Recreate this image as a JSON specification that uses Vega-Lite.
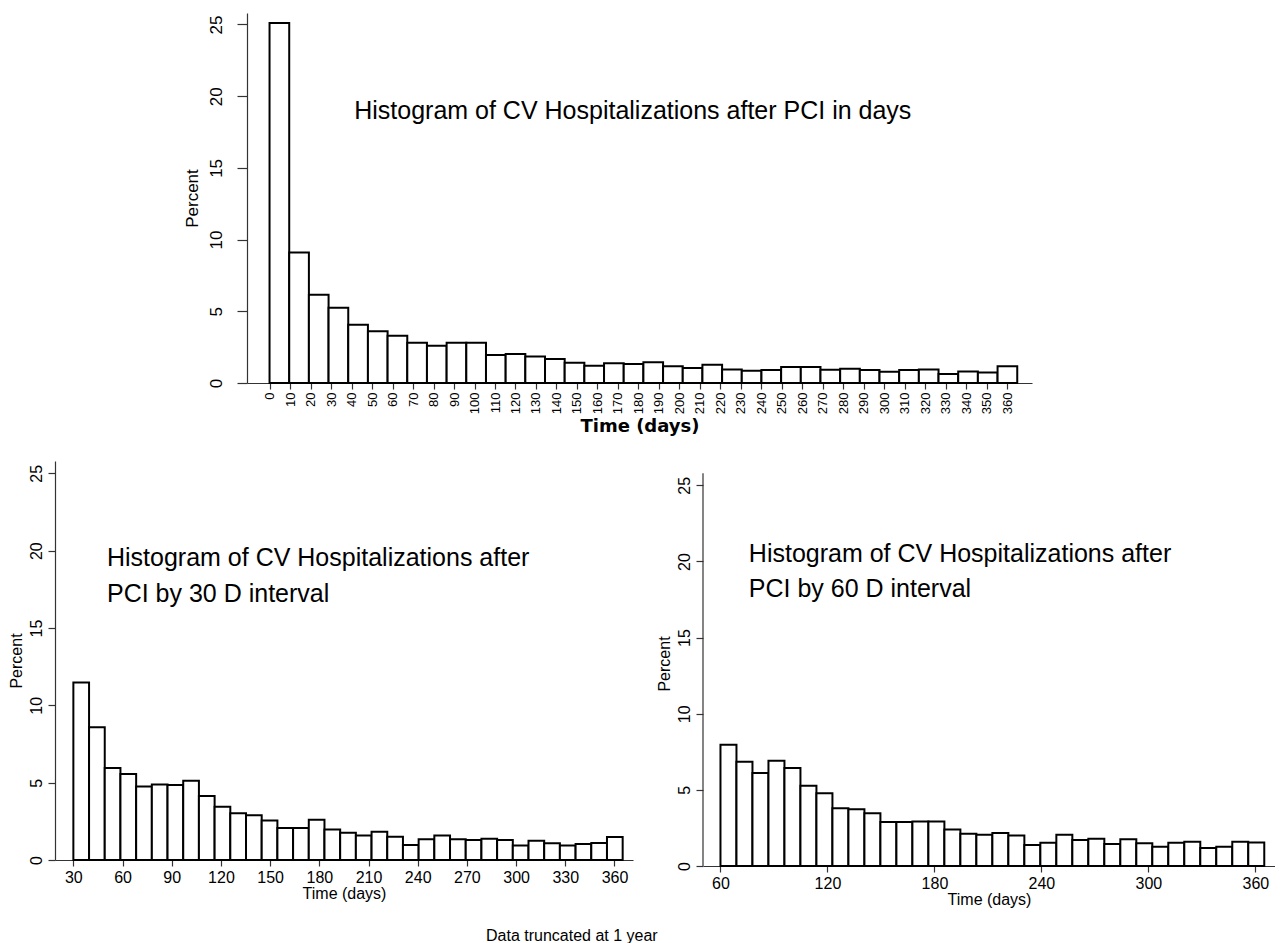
{
  "$schema": "https://vega.github.io/schema/vega-lite/v6.json",
  "background": "white",
  "padding": {"left": 8, "top": 13, "right": 0, "bottom": 0},
  "config": {
    "font": "Liberation Sans",
    "view": {"stroke": null},
    "axis": {"grid": false, "domainColor": "#333", "tickColor": "#333", "labelColor": "#000", "titleColor": "#000", "labelFont": "Liberation Sans", "titleFont": "Liberation Sans", "titleFontWeight": "normal", "domainWidth": 1.2, "tickWidth": 1.2, "labelOverlap": false, "labelSeparation": 0},
    "title": {"font": "Liberation Sans"}
  },
  "title": {"text": "Data truncated at 1 year", "orient": "bottom", "anchor": "start", "dx": 478, "offset": 21, "fontSize": 16, "fontWeight": "normal", "color": "#000"},
  "datasets": {
    "top": [
      {"start": 0, "end": 9.6, "pct": 25.1},
      {"start": 9.6, "end": 19.2, "pct": 9.1},
      {"start": 19.2, "end": 28.8, "pct": 6.15},
      {"start": 28.8, "end": 38.4, "pct": 5.25},
      {"start": 38.4, "end": 48, "pct": 4.07},
      {"start": 48, "end": 57.6, "pct": 3.6},
      {"start": 57.6, "end": 67.2, "pct": 3.3},
      {"start": 67.2, "end": 76.8, "pct": 2.8},
      {"start": 76.8, "end": 86.4, "pct": 2.6},
      {"start": 86.4, "end": 96, "pct": 2.8},
      {"start": 96, "end": 105.6, "pct": 2.8},
      {"start": 105.6, "end": 115.2, "pct": 1.95},
      {"start": 115.2, "end": 124.8, "pct": 2.02},
      {"start": 124.8, "end": 134.4, "pct": 1.85},
      {"start": 134.4, "end": 144, "pct": 1.67},
      {"start": 144, "end": 153.6, "pct": 1.42},
      {"start": 153.6, "end": 163.2, "pct": 1.21},
      {"start": 163.2, "end": 172.8, "pct": 1.37},
      {"start": 172.8, "end": 182.4, "pct": 1.33},
      {"start": 182.4, "end": 192, "pct": 1.44},
      {"start": 192, "end": 201.6, "pct": 1.16},
      {"start": 201.6, "end": 211.2, "pct": 1.05},
      {"start": 211.2, "end": 220.8, "pct": 1.28},
      {"start": 220.8, "end": 230.4, "pct": 0.95},
      {"start": 230.4, "end": 240, "pct": 0.86},
      {"start": 240, "end": 249.6, "pct": 0.9},
      {"start": 249.6, "end": 259.2, "pct": 1.11},
      {"start": 259.2, "end": 268.8, "pct": 1.11},
      {"start": 268.8, "end": 278.4, "pct": 0.93},
      {"start": 278.4, "end": 288, "pct": 1.0},
      {"start": 288, "end": 297.6, "pct": 0.9},
      {"start": 297.6, "end": 307.2, "pct": 0.79},
      {"start": 307.2, "end": 316.8, "pct": 0.9},
      {"start": 316.8, "end": 326.4, "pct": 0.95},
      {"start": 326.4, "end": 336, "pct": 0.63},
      {"start": 336, "end": 345.6, "pct": 0.81},
      {"start": 345.6, "end": 355.2, "pct": 0.74},
      {"start": 355.2, "end": 364.8, "pct": 1.16}
    ],
    "d30": [
      {"start": 30, "end": 39.57, "pct": 11.47},
      {"start": 39.57, "end": 49.14, "pct": 8.58},
      {"start": 49.14, "end": 58.71, "pct": 5.95},
      {"start": 58.71, "end": 68.29, "pct": 5.56},
      {"start": 68.29, "end": 77.86, "pct": 4.76},
      {"start": 77.86, "end": 87.43, "pct": 4.89},
      {"start": 87.43, "end": 97.0, "pct": 4.85},
      {"start": 97.0, "end": 106.57, "pct": 5.13},
      {"start": 106.57, "end": 116.14, "pct": 4.14},
      {"start": 116.14, "end": 125.71, "pct": 3.45},
      {"start": 125.71, "end": 135.29, "pct": 3.02},
      {"start": 135.29, "end": 144.86, "pct": 2.89},
      {"start": 144.86, "end": 154.43, "pct": 2.56},
      {"start": 154.43, "end": 164.0, "pct": 2.07},
      {"start": 164.0, "end": 173.57, "pct": 2.07},
      {"start": 173.57, "end": 183.14, "pct": 2.61},
      {"start": 183.14, "end": 192.71, "pct": 1.98},
      {"start": 192.71, "end": 202.29, "pct": 1.77},
      {"start": 202.29, "end": 211.86, "pct": 1.59},
      {"start": 211.86, "end": 221.43, "pct": 1.83},
      {"start": 221.43, "end": 231.0, "pct": 1.51},
      {"start": 231.0, "end": 240.57, "pct": 0.97},
      {"start": 240.57, "end": 250.14, "pct": 1.34},
      {"start": 250.14, "end": 259.71, "pct": 1.59},
      {"start": 259.71, "end": 269.29, "pct": 1.34},
      {"start": 269.29, "end": 278.86, "pct": 1.29},
      {"start": 278.86, "end": 288.43, "pct": 1.38},
      {"start": 288.43, "end": 298.0, "pct": 1.29},
      {"start": 298.0, "end": 307.57, "pct": 0.93},
      {"start": 307.57, "end": 317.14, "pct": 1.25},
      {"start": 317.14, "end": 326.71, "pct": 1.08},
      {"start": 326.71, "end": 336.29, "pct": 0.93},
      {"start": 336.29, "end": 345.86, "pct": 1.03},
      {"start": 345.86, "end": 355.43, "pct": 1.1},
      {"start": 355.43, "end": 365.0, "pct": 1.49}
    ],
    "d60": [
      {"start": 60, "end": 68.97, "pct": 7.97},
      {"start": 68.97, "end": 77.94, "pct": 6.85},
      {"start": 77.94, "end": 86.91, "pct": 6.1},
      {"start": 86.91, "end": 95.88, "pct": 6.91},
      {"start": 95.88, "end": 104.85, "pct": 6.43},
      {"start": 104.85, "end": 113.82, "pct": 5.27},
      {"start": 113.82, "end": 122.79, "pct": 4.77},
      {"start": 122.79, "end": 131.76, "pct": 3.79},
      {"start": 131.76, "end": 140.73, "pct": 3.72},
      {"start": 140.73, "end": 149.7, "pct": 3.46},
      {"start": 149.7, "end": 158.67, "pct": 2.89},
      {"start": 158.67, "end": 167.64, "pct": 2.89},
      {"start": 167.64, "end": 176.61, "pct": 2.93},
      {"start": 176.61, "end": 185.58, "pct": 2.93},
      {"start": 185.58, "end": 194.55, "pct": 2.39},
      {"start": 194.55, "end": 203.52, "pct": 2.12},
      {"start": 203.52, "end": 212.49, "pct": 2.06},
      {"start": 212.49, "end": 221.46, "pct": 2.17},
      {"start": 221.46, "end": 230.43, "pct": 2.01},
      {"start": 230.43, "end": 239.4, "pct": 1.38},
      {"start": 239.4, "end": 248.37, "pct": 1.53},
      {"start": 248.37, "end": 257.34, "pct": 2.06},
      {"start": 257.34, "end": 266.31, "pct": 1.71},
      {"start": 266.31, "end": 275.28, "pct": 1.79},
      {"start": 275.28, "end": 284.25, "pct": 1.44},
      {"start": 284.25, "end": 293.22, "pct": 1.75},
      {"start": 293.22, "end": 302.19, "pct": 1.49},
      {"start": 302.19, "end": 311.16, "pct": 1.27},
      {"start": 311.16, "end": 320.13, "pct": 1.53},
      {"start": 320.13, "end": 329.1, "pct": 1.6},
      {"start": 329.1, "end": 338.07, "pct": 1.18},
      {"start": 338.07, "end": 347.04, "pct": 1.27},
      {"start": 347.04, "end": 356.01, "pct": 1.6},
      {"start": 356.01, "end": 364.98, "pct": 1.55}
    ]
  },
  "vconcat": [
    {
      "spacing": 0,
      "hconcat": [
        {
          "width": 128, "height": 370,
          "data": {"values": [{"t": ""}]},
          "mark": {"type": "text"},
          "encoding": {"text": {"field": "t"}}
        },
        {
          "width": 785, "height": 370,
          "layer": [
            {
              "data": {"name": "top"},
              "mark": {"type": "bar", "fill": "white", "stroke": "black", "strokeWidth": 2},
              "encoding": {
                "x": {"field": "start", "type": "quantitative", "scale": {"domain": [-11, 372], "nice": false, "zero": false},
                  "axis": {"values": [0,10,20,30,40,50,60,70,80,90,100,110,120,130,140,150,160,170,180,190,200,210,220,230,240,250,260,270,280,290,300,310,320,330,340,350,360], "labelAngle": -90, "labelFontSize": 13, "tickSize": 6, "labelPadding": 3, "labelOverlap": false, "labelFlush": false, "title": "Time (days)", "titleFont": "DejaVu Sans", "titleFontSize": 18, "titleFontWeight": "bold", "titlePadding": 4}},
                "x2": {"field": "end"},
                "y": {"field": "pct", "type": "quantitative", "scale": {"domain": [0, 25.8], "nice": false},
                  "axis": {"values": [0,5,10,15,20,25], "labelAngle": -90, "labelFontSize": 17, "tickSize": 10, "labelPadding": 12, "title": "Percent", "titleFontSize": 17, "titlePadding": 6}},
                "y2": {"datum": 0}
              }
            },
            {
              "data": {"values": [{}]},
              "mark": {"type": "text", "text": "Histogram of CV Hospitalizations after PCI in days", "align": "left", "baseline": "middle", "fontSize": 25, "color": "#000"},
              "encoding": {
                "x": {"datum": 41.3, "type": "quantitative",
                  "axis": {"values": [0,10,20,30,40,50,60,70,80,90,100,110,120,130,140,150,160,170,180,190,200,210,220,230,240,250,260,270,280,290,300,310,320,330,340,350,360], "labelAngle": -90, "labelFontSize": 13, "tickSize": 6, "labelPadding": 3, "labelOverlap": false, "labelFlush": false, "title": "Time (days)", "titleFont": "DejaVu Sans", "titleFontSize": 18, "titleFontWeight": "bold", "titlePadding": 4}},
                "y": {"datum": 19, "type": "quantitative",
                  "axis": {"values": [0,5,10,15,20,25], "labelAngle": -90, "labelFontSize": 17, "tickSize": 10, "labelPadding": 12, "title": "Percent", "titleFontSize": 17, "titlePadding": 6}}
              }
            }
          ]
        }
      ]
    },
    {
      "spacing": 22,
      "hconcat": [
        {
          "width": 578, "height": 399,
          "layer": [
            {
              "data": {"name": "d30"},
              "mark": {"type": "bar", "fill": "white", "stroke": "black", "strokeWidth": 2},
              "encoding": {
                "x": {"field": "start", "type": "quantitative", "scale": {"domain": [18.8, 371.3], "nice": false, "zero": false},
                  "axis": {"values": [30,60,90,120,150,180,210,240,270,300,330,360], "labelFontSize": 16, "tickSize": 6, "labelPadding": 3, "labelFlush": false, "title": "Time (days)", "titleFontSize": 16, "titlePadding": 0}},
                "x2": {"field": "end"},
                "y": {"field": "pct", "type": "quantitative", "scale": {"domain": [0, 25.8], "nice": false},
                  "axis": {"values": [0,5,10,15,20,25], "labelAngle": -90, "labelFontSize": 16, "tickSize": 7, "labelPadding": 4, "title": "Percent", "titleFontSize": 16, "titlePadding": 4}},
                "y2": {"datum": 0}
              }
            },
            {
              "data": {"values": [{}]},
              "mark": {"type": "text", "text": ["Histogram of CV Hospitalizations after", "PCI by 30 D interval"], "align": "left", "baseline": "middle", "fontSize": 25, "lineHeight": 36, "color": "#000"},
              "encoding": {"x": {"datum": 50.5}, "y": {"datum": 19.5}}
            }
          ]
        },
        {
          "width": 572, "height": 405,
          "layer": [
            {
              "data": {"name": "d60"},
              "mark": {"type": "bar", "fill": "white", "stroke": "black", "strokeWidth": 2},
              "encoding": {
                "x": {"field": "start", "type": "quantitative", "scale": {"domain": [50.2, 371], "nice": false, "zero": false},
                  "axis": {"values": [60,120,180,240,300,360], "labelFontSize": 16, "tickSize": 6, "labelPadding": 3, "labelFlush": false, "title": "Time (days)", "titleFontSize": 16, "titlePadding": 0}},
                "x2": {"field": "end"},
                "y": {"field": "pct", "type": "quantitative", "scale": {"domain": [0, 26.6], "nice": false},
                  "axis": {"values": [0,5,10,15,20,25], "domain": false, "labelAngle": -90, "labelFontSize": 16, "tickSize": 7, "labelPadding": 4, "title": "Percent", "titleFontSize": 16, "titlePadding": 4}},
                "y2": {"datum": 0}
              }
            },
            {
              "data": {"values": [{}]},
              "mark": {"type": "rule", "color": "#333", "strokeWidth": 1.2},
              "encoding": {"x": {"datum": 50.2}, "y": {"datum": 0}, "y2": {"datum": 25.8}}
            },
            {
              "data": {"values": [{}]},
              "mark": {"type": "text", "text": ["Histogram of CV Hospitalizations after", "PCI by 60 D interval"], "align": "left", "baseline": "middle", "fontSize": 25, "lineHeight": 35, "color": "#000"},
              "encoding": {"x": {"datum": 75.9}, "y": {"datum": 20.5}}
            }
          ]
        }
      ]
    }
  ],
  "spacing": 25
}
